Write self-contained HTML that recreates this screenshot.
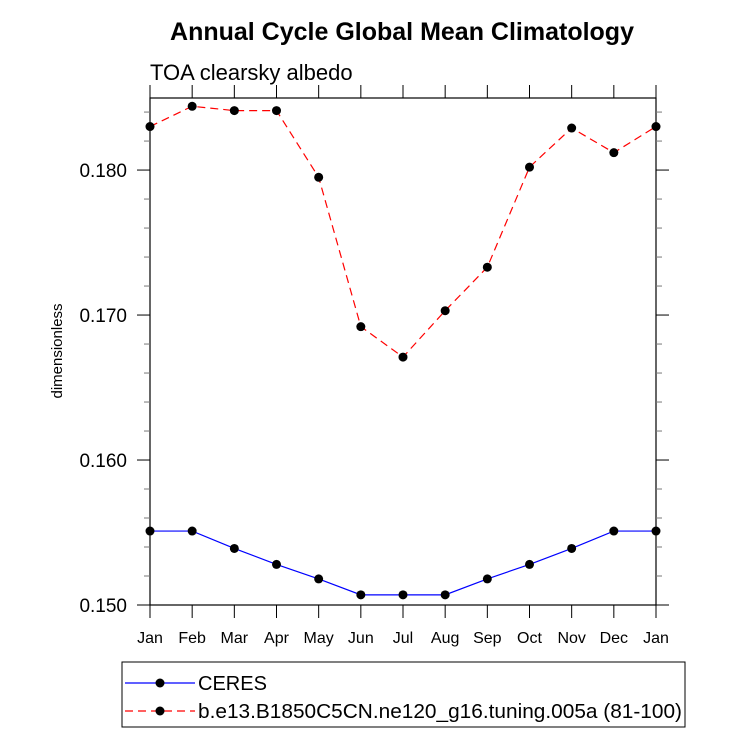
<!DOCTYPE html>
<html><head><meta charset="utf-8"><style>
body{margin:0;background:#fff;}
svg text{font-family:"Liberation Sans",Arial,sans-serif;}
</style></head><body>
<svg id="chart" width="733" height="737" xmlns="http://www.w3.org/2000/svg">
<text x="402" y="40" text-anchor="middle" font-size="25" font-weight="bold">Annual Cycle Global Mean Climatology</text>
<text x="150" y="80" font-size="22">TOA clearsky albedo</text>
<text transform="translate(62,351) rotate(-90)" text-anchor="middle" font-size="15">dimensionless</text>
<g id="axes"></g>
<g id="series"></g>
<rect x="122" y="662" width="563" height="65" fill="none" stroke="#000" stroke-width="1"/>
<g>
<line x1="125" y1="683" x2="195" y2="683" stroke="#00f" stroke-width="1.2"/>
<circle cx="160" cy="683" r="4.5" fill="#000"/>
<text x="198" y="690" font-size="20">CERES</text>
</g>
<g>
<line x1="125" y1="711" x2="195" y2="711" stroke="#f00" stroke-width="1.2" stroke-dasharray="8,5"/>
<circle cx="160" cy="711" r="4.5" fill="#000"/>
<text x="198" y="718" font-size="20" textLength="484" lengthAdjust="spacingAndGlyphs">b.e13.B1850C5CN.ne120_g16.tuning.005a (81-100)</text>
</g>
</svg>
<script>
const months = ["Jan","Feb","Mar","Apr","May","Jun","Jul","Aug","Sep","Oct","Nov","Dec","Jan"];
const ceres = [0.1551,0.1551,0.1539,0.1528,0.1518,0.1507,0.1507,0.1507,0.1518,0.1528,0.1539,0.1551,0.1551];
const model = [0.1830,0.1844,0.1841,0.1841,0.1795,0.1692,0.1671,0.1703,0.1733,0.1802,0.1829,0.1812,0.1830];
const yTicks = [0.150,0.160,0.170,0.180];
const yTickLabels = ["0.150","0.160","0.170","0.180"];
const yMin = 0.150, yMax = 0.18497;
const L=150,R=656,T=98,B=605;
const NS="http://www.w3.org/2000/svg";
const xs = i => L + i*(R-L)/12;
const ys = v => B - (v-yMin)/(yMax-yMin)*(B-T);
function mk(tag, attrs, parent){const e=document.createElementNS(NS,tag);for(const k in attrs)e.setAttribute(k,attrs[k]);parent.appendChild(e);return e;}
const ax=document.getElementById('axes');
const frame=mk('rect',{x:L,y:T,width:R-L,height:B-T,fill:'none',stroke:'#000','stroke-width':1.2},ax);


for(let i=0;i<months.length;i++){
  const x=xs(i);
  mk('line',{x1:x,y1:B,x2:x,y2:B+13,stroke:'#000'},ax);
  mk('line',{x1:x,y1:T,x2:x,y2:T-13,stroke:'#000'},ax);
  const t=mk('text',{x:x,y:B+38,'text-anchor':'middle','font-size':16},ax);
  t.textContent=months[i];
  
  
}
for(let v=yMin; v<=yMax+1e-9; v+=0.002){
  const y=ys(v);
  const major=Math.abs(Math.round(v*1000)%10)<1e-6;
  const len=major?13:6;
  mk('line',{x1:L,y1:y,x2:L-len,y2:y,stroke:major?'#000':'#777'},ax);
  mk('line',{x1:R,y1:y,x2:R+len,y2:y,stroke:major?'#000':'#777'},ax);
}
yTicks.forEach((v,i)=>{
  const t=mk('text',{x:L-23,y:ys(v)+7,'text-anchor':'end','font-size':19},ax);
  t.textContent=yTickLabels[i];
  
  
});
const sg=document.getElementById('series');
function drawSeries(vals,color,dash,name){
  const g=mk('g',{},sg);
  
  
  const pts=vals.map((v,i)=>xs(i)+','+ys(v)).join(' ');
  const a={points:pts,fill:'none',stroke:color,'stroke-width':1.2};
  if(dash)a['stroke-dasharray']=dash;
  mk('polyline',a,g);
  vals.forEach((v,i)=>{
    const c=mk('circle',{cx:xs(i),cy:ys(v),r:4.5,fill:'#000'},g);
    
    
  });
}
drawSeries(ceres,'#00f',null,'ceres-series');
drawSeries(model,'#f00','8,5','model-series');
</script>
</body></html>
